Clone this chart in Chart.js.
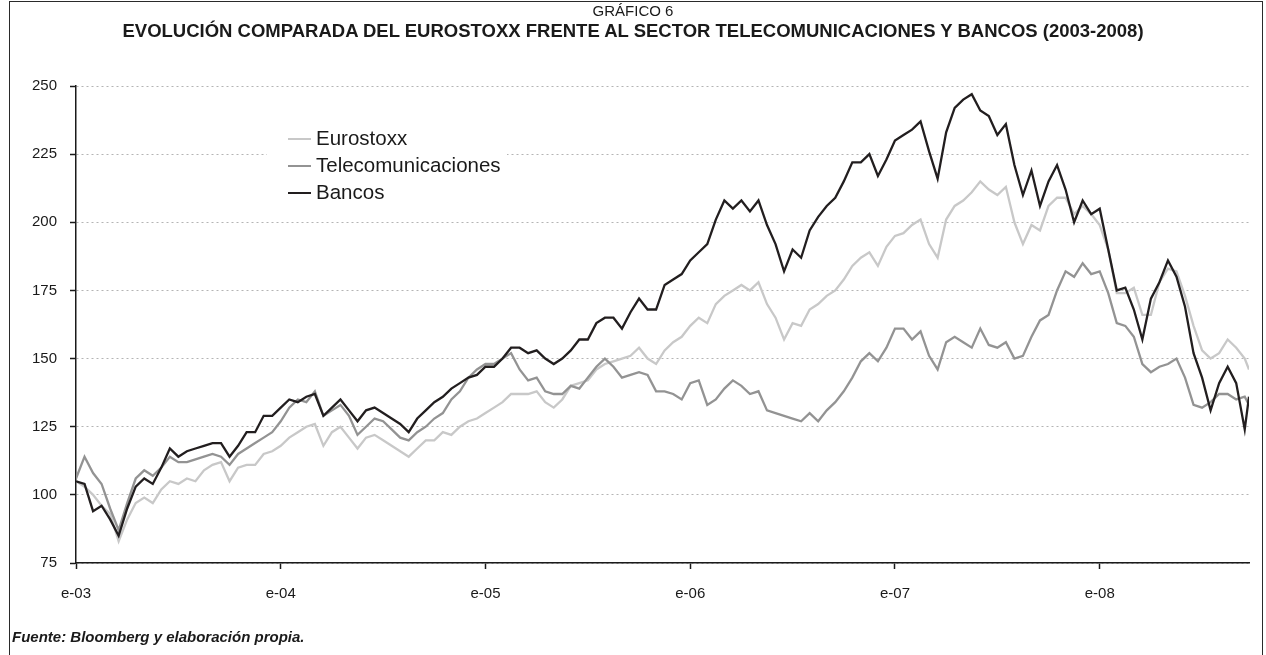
<!DOCTYPE html>
<html lang="es">
<head>
<meta charset="utf-8">
<title>Gráfico 6</title>
<script src="https://cdn.jsdelivr.net/npm/chart.js@4.4.1/dist/chart.umd.min.js"></script>
<style>
  body { margin: 0; background: #fff; font-family: "Liberation Sans", Arial, sans-serif; color: #1a1a1a; }
  #wrap { position: relative; width: 1266px; height: 655px; overflow: hidden; }
  #frame { position: absolute; left: 9px; top: 1px; width: 1252px; height: 700px; border: 1.5px solid #2a2a2a; }
  canvas { position: absolute; left: 0; top: 0; }
  .sup { position: absolute; left: 0; width: 1266px; text-align: center; }
  #num { top: 2px; font-size: 15px; }
  #tit { top: 20px; font-size: 18.5px; font-weight: bold; }
  #src { position: absolute; left: 12px; top: 628px; font-size: 15px; font-weight: bold; font-style: italic; }
  #leg { position: absolute; left: 267px; top: 117px; width: 240px; height: 90px; background: #fff; }
  .it { position: absolute; left: 49px; font-size: 20.5px; line-height: 22px; }
  .it i { position: absolute; left: -28px; top: 11px; width: 23px; height: 2px; }
</style>
</head>
<body>
<div id="wrap">
  <canvas id="chart" width="1266" height="655"></canvas>
  <div id="frame"></div>
  <div class="sup" id="num">GRÁFICO 6</div>
  <div class="sup" id="tit">EVOLUCIÓN COMPARADA DEL EUROSTOXX FRENTE AL SECTOR TELECOMUNICACIONES Y BANCOS (2003-2008)</div>
  <div id="leg"></div>
  <div id="src">Fuente: Bloomberg y elaboración propia.</div>
</div>
<script>
// meses desde enero 2003, cada medio mes (último punto: finales de septiembre 2008)
const months = [];
for (let i = 0; i <= 137; i++) months.push(i / 2);
months.push(68.75);

const xTickLabels = ["e-03", "e-04", "e-05", "e-06", "e-07", "e-08"];

const eurostoxx = [
  105,103,100,96,93,83,91,97,99,97,102,105,104,106,105,109,111,112,105,110,111,111,115,116,118,
  121,123,125,126,118,123,125,121,117,121,122,120,118,116,114,117,120,120,123,122,125,127,128,130,
  132,134,137,137,137,138,134,132,135,140,141,142,146,148,149,150,151,154,150,148,153,156,158,162,
  165,163,170,173,175,177,175,178,170,165,157,163,162,168,170,173,175,179,184,187,189,184,191,195,
  196,199,201,192,187,201,206,208,211,215,212,210,213,200,192,199,197,206,209,209,203,206,203,199,
  190,174,174,176,166,166,178,183,182,173,162,153,150,152,157,154,150,146
];

const telecomunicaciones = [
  106,114,108,104,95,87,97,106,109,107,110,114,112,112,113,114,115,114,111,115,117,119,121,123,127,
  132,135,134,138,129,131,133,129,122,125,128,127,124,121,120,123,125,128,130,135,138,143,146,148,
  148,150,152,146,142,143,138,137,137,140,139,143,147,150,147,143,144,145,144,138,138,137,135,141,
  142,133,135,139,142,140,137,138,131,130,129,128,127,130,127,131,134,138,143,149,152,149,154,161,
  161,157,160,151,146,156,158,156,154,161,155,154,156,150,151,158,164,166,175,182,180,185,181,182,
  174,163,162,158,148,145,147,148,150,143,133,132,134,137,137,135,136,133
];

const bancos = [
  105,104,94,96,91,85,95,103,106,104,110,117,114,116,117,118,119,119,114,118,123,123,129,129,132,
  135,134,136,137,129,132,135,131,127,131,132,130,128,126,123,128,131,134,136,139,141,143,144,147,
  147,150,154,154,152,153,150,148,150,153,157,157,163,165,165,161,167,172,168,168,177,179,181,186,
  189,192,201,208,205,208,204,208,199,192,182,190,187,197,202,206,209,215,222,222,225,217,223,230,
  232,234,237,226,216,233,242,245,247,241,239,232,236,221,210,219,206,215,221,212,200,208,203,205,
  190,175,176,168,157,172,178,186,180,169,152,143,131,141,147,141,124,136
];

const series = [
  { label: "Eurostoxx", values: eurostoxx, color: "#c8c8c8", order: 2 },
  { label: "Telecomunicaciones", values: telecomunicaciones, color: "#939393", order: 1 },
  { label: "Bancos", values: bancos, color: "#221e1f", order: 0 }
];

// leyenda en html sobre el área del gráfico
const leg = document.getElementById("leg");
series.forEach((s, i) => {
  const d = document.createElement("div");
  d.className = "it";
  d.style.top = (10 + i * 27) + "px";
  d.innerHTML = '<i style="background:' + s.color + '"></i>' + s.label;
  leg.appendChild(d);
});

const ctx = document.getElementById("chart").getContext("2d");
new Chart(ctx, {
  type: "line",
  data: {
    datasets: series.map(s => ({
      label: s.label,
      data: s.values.map((v, i) => ({ x: months[i], y: v })),
      borderColor: s.color,
      borderWidth: 2.3,
      pointRadius: 0,
      tension: 0,
      order: s.order
    }))
  },
  options: {
    responsive: false,
    animation: false,
    layout: { padding: { left: 0, top: 86, right: 17, bottom: 0 } },
    plugins: { legend: { display: false }, tooltip: { enabled: false } },
    scales: {
      x: {
        type: "linear",
        min: 0,
        max: 68.75,
        afterFit: s => { s.height = 92; },
        border: { color: "#1a1a1a", width: 1.5 },
        grid: { drawOnChartArea: false, tickLength: 6, tickColor: "#1a1a1a", tickWidth: 1.5 },
        ticks: {
          stepSize: 12,
          includeBounds: false,
          padding: 16,
          color: "#1a1a1a",
          font: { family: "Liberation Sans", size: 15 },
          callback: v => xTickLabels[v / 12]
        }
      },
      y: {
        min: 75,
        max: 250,
        afterFit: s => { s.width = 76; },
        border: { color: "#1a1a1a", width: 1.5, dash: [2, 3] },
        grid: { color: "#b4b4b4", lineWidth: 1, tickLength: 6, tickColor: "#1a1a1a", tickWidth: 1.5, tickBorderDash: [1, 0] },
        ticks: {
          stepSize: 25,
          padding: 13,
          color: "#1a1a1a",
          font: { family: "Liberation Sans", size: 15 }
        }
      }
    }
  }
});
</script>
</body>
</html>
